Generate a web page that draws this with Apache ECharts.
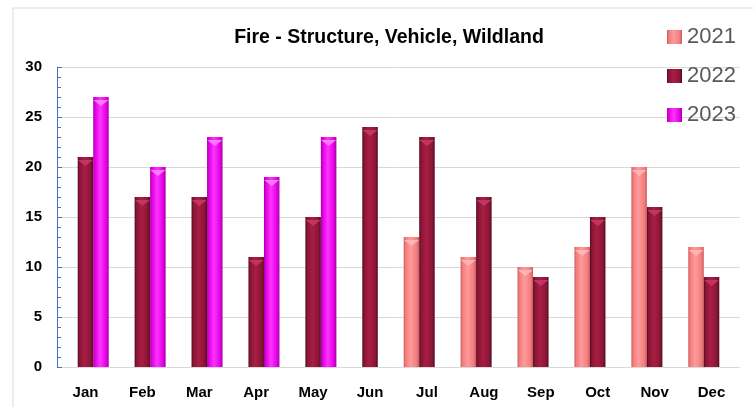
<!DOCTYPE html>
<html>
<head>
<meta charset="utf-8">
<script src="https://cdn.jsdelivr.net/npm/echarts@6/dist/echarts.min.js"></script>
<style>
  html, body { margin: 0; padding: 0; background: #fff; }
  #chart { width: 753px; height: 407px; }
</style>
</head>
<body>
<div id="chart"></div>
<script>
// data
const months = ['Jan', 'Feb', 'Mar', 'Apr', 'May', 'Jun', 'Jul', 'Aug', 'Sep', 'Oct', 'Nov', 'Dec'];
const fires2021 = [null, null, null, null, null, null, 13, 11, 10, 12, 20, 12];
const fires2022 = [21, 17, 17, 11, 15, 24, 23, 17, 9, 15, 16, 9];
const fires2023 = [27, 20, 23, 19, 23, null, null, null, null, null, null, null];
const yTicks = [0, 5, 10, 15, 20, 25, 30];

const chart = echarts.init(document.getElementById('chart'), null, { renderer: 'canvas' });

// horizontal gradient to fake the bevelled bars
function bevel(dark, mid, light) {
    return new echarts.graphic.LinearGradient(0, 0, 1, 0, [
        { offset: 0, color: dark },
        { offset: 0.12, color: mid },
        { offset: 0.45, color: light },
        { offset: 0.85, color: mid },
        { offset: 1, color: dark }
    ]);
}

const colors = [
    bevel('#c85a5a', '#f07c7c', '#ff9a9a'),
    bevel('#4e0a1f', '#8a1535', '#a81d45'),
    bevel('#a300a3', '#e000e0', '#ff33ff')
];
const tipColors = ['#ffb3b3', '#c23560', '#ff7aff'];

function barSeries(name, data, i) {
    return {
        name: name,
        type: 'bar',
        data: data,
        barWidth: 15.5,
        barGap: '0%',
        itemStyle: { color: colors[i] }
    };
}

// little chevron on top of each bar
function tipSeries(name, data, i) {
    return {
        name: name,
        type: 'pictorialBar',
        data: data,
        barWidth: 15.5,
        barGap: '0%',
        symbol: 'path://M0,0 L2,0 L1,0.8 Z',
        symbolSize: [15, 6],
        symbolPosition: 'end',
        symbolOffset: [0, '50%'],
        itemStyle: { color: tipColors[i] },
        z: 3,
        silent: true
    };
}

const option = {
    animation: false,
    textStyle: { fontFamily: 'Liberation Sans' },
    graphic: [{
        type: 'rect',
        shape: { x: 13, y: 8, width: 760, height: 420 },
        style: { fill: 'none', stroke: '#d9d9d9', lineWidth: 1 },
        z: -1
    }],
    title: {
        text: 'Fire - Structure, Vehicle, Wildland',
        left: 384,
        top: 23,
        textAlign: 'center',
        textStyle: { fontSize: 19.5, fontWeight: 'bold', color: '#000', fontFamily: 'Liberation Sans' }
    },
    legend: {
        orient: 'vertical',
        left: 662,
        top: 21,
        itemWidth: 15,
        itemHeight: 14,
        itemGap: 17,
        icon: 'rect',
        textStyle: { fontSize: 22, color: '#595959', fontFamily: 'Liberation Sans' },
        data: ['2021', '2022', '2023']
    },
    grid: { left: 57, right: 13, top: 67, bottom: 40 },
    xAxis: {
        type: 'category',
        data: months,
        axisTick: { show: false },
        axisLine: { lineStyle: { color: '#d9d9d9' } },
        axisLabel: { fontSize: 15, fontWeight: 'bold', color: '#000', margin: 18 }
    },
    yAxis: {
        type: 'value',
        min: yTicks[0],
        max: yTicks[yTicks.length - 1],
        interval: 5,
        axisLine: { show: true, lineStyle: { color: '#4472c4' } },
        axisTick: { show: true, inside: true, length: 5, lineStyle: { color: '#4472c4' } },
        minorTick: { show: true, splitNumber: 5, length: 4, lineStyle: { color: '#4472c4' } },
        splitLine: { lineStyle: { color: '#d9d9d9' } },
        axisLabel: { fontSize: 15, fontWeight: 'bold', color: '#000', margin: 15 }
    },
    series: [
        barSeries('2021', fires2021, 0),
        barSeries('2022', fires2022, 1),
        barSeries('2023', fires2023, 2),
        tipSeries('2021', fires2021, 0),
        tipSeries('2022', fires2022, 1),
        tipSeries('2023', fires2023, 2)
    ]
};

chart.setOption(option);
</script>
</body>
</html>
